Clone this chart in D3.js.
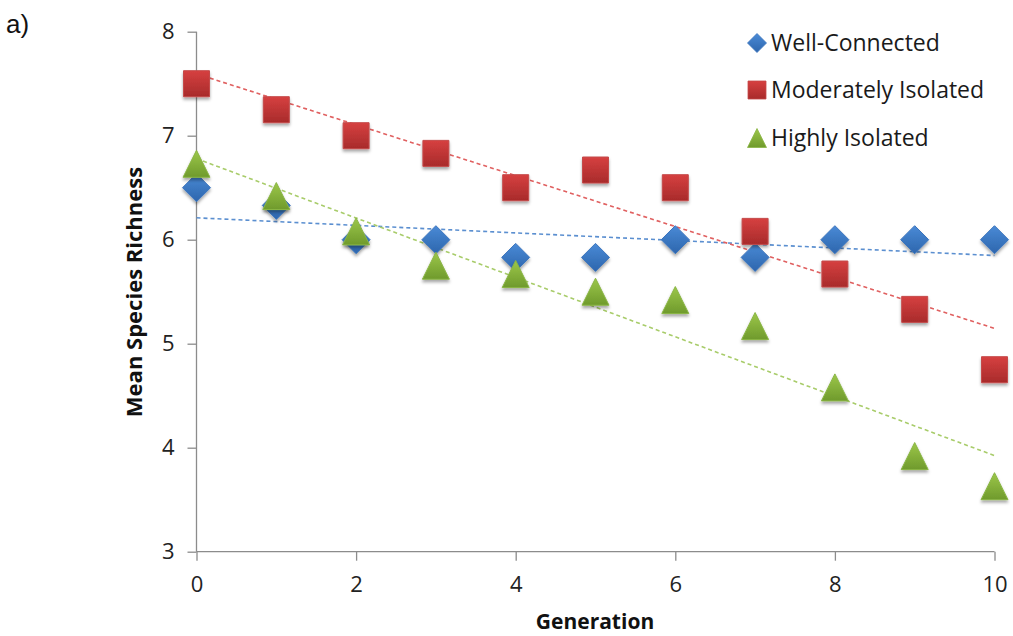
<!DOCTYPE html>
<html><head><meta charset="utf-8">
<script src="https://cdn.jsdelivr.net/npm/d3@7"></script>
<style>body{margin:0;background:#fff}svg{display:block}</style>
</head><body>
<script>
const generations = [0,1,2,3,4,5,6,7,8,9,10];
const wellConnected = [6.5,6.33,6.0,6.0,5.83,5.83,6.0,5.83,6.0,6.0,6.0];
const moderatelyIsolated = [7.5,7.25,7.0,6.83,6.5,6.67,6.5,6.08,5.67,5.33,4.75];
const highlyIsolated = [6.73,6.42,6.08,5.75,5.67,5.5,5.42,5.17,4.58,3.92,3.63];
const seriesNames = ["Well-Connected","Moderately Isolated","Highly Isolated"];
const xTicks = [0,2,4,6,8,10];
const yTicks = [3,4,5,6,7,8];

const W=1013,H=636;
const svg=d3.select("body").append("svg").attr("width",W).attr("height",H);
const x=d3.scaleLinear().domain([0,10]).range([196.5,994.5]);
const y=d3.scaleLinear().domain([3,8]).range([551.7,31.7]);

const defs=svg.append("defs");
const grads=[["gB","#4a8ad6","#2d66ad"],["gR","#d64040","#a82b2b"],["gG","#9cc74a","#6f9a2c"]];
grads.forEach(([id,c1,c2])=>{
  const g=defs.append("linearGradient").attr("id",id).attr("x1",0).attr("y1",0).attr("x2",0).attr("y2",1);
  g.append("stop").attr("offset","0%").attr("stop-color",c1);
  g.append("stop").attr("offset","100%").attr("stop-color",c2);
});
const f=defs.append("filter").attr("id","sh").attr("x","-50%").attr("y","-50%").attr("width","200%").attr("height","200%");
f.append("feDropShadow").attr("dx",0).attr("dy",2.5).attr("stdDeviation",1.6).attr("flood-color","#000").attr("flood-opacity",0.35);

const series=[
 {name:seriesNames[0],vals:wellConnected,type:"diamond",fill:"url(#gB)",stroke:"#3a74bd",line:"#5b8fd0"},
 {name:seriesNames[1],vals:moderatelyIsolated,type:"square",fill:"url(#gR)",stroke:"#c44a4a",line:"#e06060"},
 {name:seriesNames[2],vals:highlyIsolated,type:"triangle",fill:"url(#gG)",stroke:"#8ab545",line:"#a8cc6a"}
];

function markerPath(type,s){
  if(type==="diamond"){const r=s/2;return `M0,${-r}L${r},0L0,${r}L${-r},0Z`;}
  if(type==="square"){const r=s/2;return `M${-r},${-r}H${r}V${r}H${-r}Z`;}
  const r=s/2;return `M0,${-r}L${r},${r}L${-r},${r}Z`;
}
const sizes={diamond:28,square:26,triangle:27};

// axes
const axisColor="#8c8c8c";
const gy=svg.append("g").attr("transform",`translate(${x(0)},0)`).call(d3.axisLeft(y).tickValues(yTicks).tickSize(9).tickPadding(13).tickFormat(d3.format("d")));
const gx=svg.append("g").attr("transform",`translate(0,${y(3)})`).call(d3.axisBottom(x).tickValues(xTicks).tickSize(9).tickPadding(16).tickFormat(d3.format("d")));
[gx,gy].forEach(g=>{
  g.select(".domain").attr("stroke",axisColor).attr("stroke-width",1.3);
  g.selectAll(".tick line").attr("stroke",axisColor).attr("stroke-width",1.3);
  g.selectAll("text").attr("font-family","Open Sans, sans-serif").attr("font-size",22).attr("fill","#222");
});
gy.select(".domain").attr("d",`M0,${y(8)}H0V${y(3)}`);
gx.select(".domain").attr("d",`M${x(0)},0H${x(10)}`);

// trendlines (least squares from data)
series.forEach(s=>{
  const mx=d3.mean(generations), my=d3.mean(s.vals);
  let sxy=0,sxx=0;generations.forEach((g,i)=>{sxy+=(g-mx)*(s.vals[i]-my);sxx+=(g-mx)**2;});
  const b=sxy/sxx,a=my-b*mx;
  svg.append("line").attr("x1",x(0)).attr("x2",x(10)).attr("y1",y(a)).attr("y2",y(a+b*10))
    .attr("stroke",s.line).attr("stroke-width",1.6).attr("stroke-dasharray","4,3");
});

// markers
series.forEach(s=>{
  svg.append("g").selectAll("path").data(s.vals).join("path")
   .attr("transform",(v,i)=>`translate(${x(generations[i])},${y(v)})`)
   .attr("d",markerPath(s.type,sizes[s.type]))
   .attr("fill",s.fill).attr("stroke",s.stroke).attr("stroke-width",1).attr("filter","url(#sh)");
});

// legend
const leg=svg.append("g");
const legY=[43,90,138];
series.forEach((s,i)=>{
  const ls={diamond:19,square:18,triangle:19}[s.type];
  leg.append("path").attr("transform",`translate(757,${legY[i]})`).attr("d",markerPath(s.type,ls))
    .attr("fill",s.fill).attr("stroke",s.stroke).attr("stroke-width",0.8);
  leg.append("text").attr("x",771).attr("y",legY[i]).attr("dy","0.35em")
    .attr("font-family","Open Sans, sans-serif").attr("font-size",23).attr("fill","#1a1a1a").text(s.name);
});

// titles
svg.append("text").attr("x",595).attr("y",629).attr("text-anchor","middle")
  .attr("font-family","Open Sans, sans-serif").attr("font-weight","bold").attr("font-size",21).attr("fill","#111").text("Generation");
svg.append("text").attr("transform",`translate(142,292) rotate(-90)`).attr("text-anchor","middle")
  .attr("font-family","Open Sans, sans-serif").attr("font-weight","bold").attr("font-size",22).attr("fill","#111").text("Mean Species Richness");
svg.append("text").attr("x",6).attr("y",33).attr("font-family","Liberation Sans, Arial, sans-serif").attr("font-size",26).attr("fill","#111").text("a)");
</script>
</body></html>
